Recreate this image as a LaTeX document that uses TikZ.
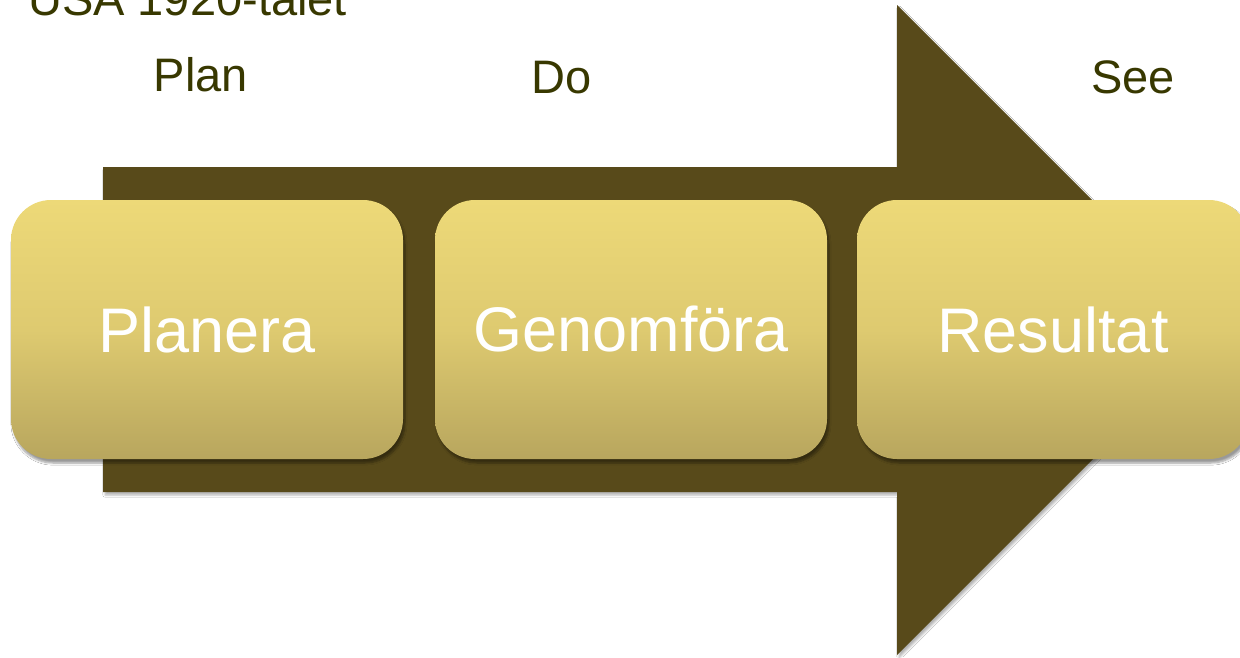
\documentclass[tikz,border=0pt]{standalone}
\usepackage{fontspec}
\setmainfont{Liberation Sans}
\usetikzlibrary{shadows.blur}
\definecolor{arrowc}{RGB}{88,74,26}
\definecolor{txtc}{RGB}{56,56,0}
\definecolor{boxtop}{RGB}{237,217,120}
\definecolor{boxmid}{RGB}{222,202,112}
\definecolor{boxbot}{RGB}{184,166,94}
\tikzset{
  card/.style={rounded corners=40pt, minimum width=392pt, minimum height=259pt,
    top color=boxtop, bottom color=boxbot, middle color=boxmid, inner sep=0pt,
    text=white, font=\fontsize{63}{70}\selectfont,
    blur shadow={shadow xshift=2pt, shadow yshift=-4pt, shadow blur steps=6, shadow blur extra rounding=2pt, shadow opacity=40}},
  label/.style={text=txtc, font=\fontsize{47}{52}\selectfont, anchor=base, inner sep=0pt},
}
\begin{document}
\begin{tikzpicture}[x=1pt,y=-1pt]
\useasboundingbox (0,0) rectangle (1240,657);
\fill[white] (0,0) rectangle (1240,657);
\fill[arrowc, blur shadow={shadow xshift=2pt, shadow yshift=-3pt, shadow blur steps=5, shadow opacity=30}]
  (103,167) -- (897,167) -- (897,5) -- (1222,330) -- (897,655) -- (897,492) -- (103,492) -- cycle;
\node[card] (planera) at (207,329.5) {Planera};
\node[card] (genom) at (631,329.5) {Genomföra};
\node[card] (result) at (1053,329.5) {Resultat};
\node[label, anchor=base west] (usa) at (28,15) {USA 1920-talet};
\node[label] (plan) at (201,91) {Plan};
\node[label] (do) at (562,93) {Do};
\node[label] (see) at (1133,93) {See};
\end{tikzpicture}
\end{document}
